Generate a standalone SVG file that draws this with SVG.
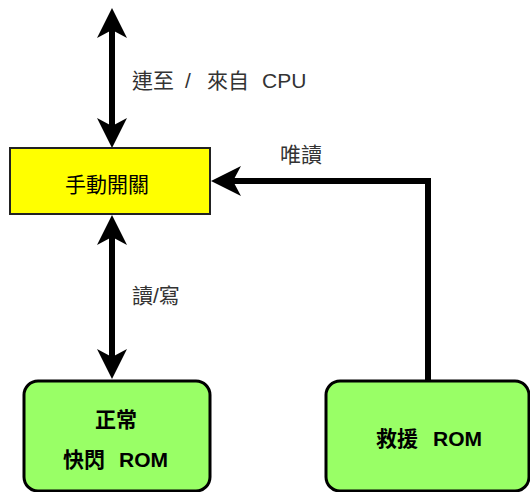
<svg xmlns="http://www.w3.org/2000/svg" width="530" height="492" viewBox="0 0 530 492">
<style>
.lbl{font-family:"Liberation Sans","Noto Sans CJK TC",sans-serif;font-size:21px;fill:#333}
.nt{font-family:"Liberation Sans","Noto Sans CJK TC",sans-serif;font-size:21px;fill:#000}
.bt{font-family:"Liberation Sans","Noto Sans CJK TC",sans-serif;font-size:21px;font-weight:bold;fill:#000}
.con{fill:none;stroke:#000;stroke-width:6;stroke-linejoin:miter}
.rom{fill:#99FF66;stroke:#000;stroke-width:3}
</style>
<defs>
<marker id="ah" markerUnits="userSpaceOnUse" viewBox="-10 -20 40 40" markerWidth="40" markerHeight="40" refX="0" refY="0" orient="auto-start-reverse" overflow="visible">
<path d="M22,0 L-8,-15 L0,0 L-8,15 Z" fill="#000"/>
</marker>
</defs>
<g id="connectors">
<line class="con" x1="112" y1="30" x2="112" y2="126" marker-start="url(#ah)" marker-end="url(#ah)"/>
<line class="con" x1="112" y1="237" x2="112" y2="357" marker-start="url(#ah)" marker-end="url(#ah)"/>
<polyline class="con" points="428,381 428,181 233,181" marker-end="url(#ah)"/>
<text class="lbl" y="88"><tspan x="132">連至</tspan><tspan x="185">/</tspan><tspan x="207">來自</tspan><tspan x="262">CPU</tspan></text>
<text class="lbl" x="280" y="162">唯讀</text>
<text class="lbl" x="132" y="303">讀/寫</text>
</g>
<g id="switch">
<rect x="10" y="148" width="200" height="66" fill="#FFFF00" stroke="#222" stroke-width="2"/>
<text class="nt" x="65" y="192">手動開關</text>
</g>
<g id="normal-rom">
<rect class="rom" x="24" y="381" width="186" height="110" rx="14"/>
<text class="bt" x="95" y="427">正常</text>
<text class="bt" y="467"><tspan x="63">快閃</tspan><tspan x="119">ROM</tspan></text>
</g>
<g id="rescue-rom">
<rect class="rom" x="326" y="381" width="203" height="110" rx="14"/>
<text class="bt" y="446"><tspan x="376">救援</tspan><tspan x="433">ROM</tspan></text>
</g>
</svg>
